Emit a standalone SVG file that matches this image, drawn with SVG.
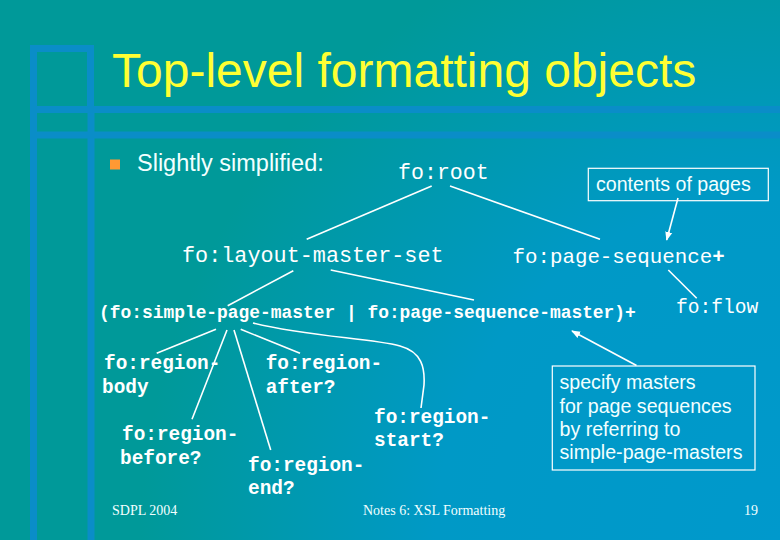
<svg xmlns="http://www.w3.org/2000/svg" width="780" height="540" viewBox="0 0 780 540">
<defs>
<radialGradient id="bg" gradientUnits="userSpaceOnUse" cx="780" cy="540" r="820">
<stop offset="0" stop-color="#0099CC"/>
<stop offset="0.42" stop-color="#0099C6"/>
<stop offset="0.78" stop-color="#009999"/>
<stop offset="1" stop-color="#009999"/>
</radialGradient>
<marker id="ah" viewBox="0 0 10 10" refX="9" refY="5" markerWidth="9" markerHeight="9" markerUnits="userSpaceOnUse" orient="auto">
<path d="M0,1 L10,5 L0,9 Z" fill="#FFFFFF"/>
</marker>
<style>
.frame{stroke:#0A8DC8;stroke-width:7;fill:none}
.mono{font-family:"Liberation Mono","Courier New",monospace;fill:#FFFFFF}
.b{font-weight:bold}
.sans{font-family:"Liberation Sans",Arial,sans-serif;fill:#F2FFFF}
.serif{font-family:"Liberation Serif","Times New Roman",serif;fill:#F2FFFF;font-size:14px}
.ln{stroke:#FFFFFF;stroke-width:1.6;fill:none}
.box{stroke:#FFFFFF;stroke-width:1.2;fill:none}
</style>
</defs>
<rect width="780" height="540" fill="url(#bg)"/>
<g id="frame">
<rect class="frame" x="33.5" y="48.5" width="57" height="61"/>
<line class="frame" x1="30" y1="109.5" x2="780" y2="109.5"/>
<line class="frame" x1="30" y1="135" x2="780" y2="135"/>
<line class="frame" x1="91" y1="109" x2="91" y2="540"/>
<line class="frame" x1="33.5" y1="109" x2="33.5" y2="540"/>
</g>
<text x="112" y="87" style="font-family:'Liberation Sans',Arial,sans-serif;font-size:48px;fill:#FFFF33">Top-level formatting objects</text>
<rect x="110" y="159.5" width="10" height="10" fill="#FF9933"/>
<text class="sans" x="137" y="171" style="font-size:23.5px">Slightly simplified:</text>
<g id="connectors">
<line class="ln" x1="431.7" y1="186" x2="306.7" y2="239.3"/>
<line class="ln" x1="450" y1="186" x2="600" y2="239.3"/>
<line class="ln" x1="293.3" y1="270.7" x2="227.7" y2="305.7"/>
<line class="ln" x1="330.7" y1="270" x2="474" y2="300"/>
<line class="ln" x1="668.3" y1="270" x2="696.7" y2="298.3"/>
<line class="ln" x1="216" y1="329.3" x2="156.7" y2="353.3"/>
<line class="ln" x1="227" y1="330" x2="192" y2="419.3"/>
<line class="ln" x1="234" y1="330" x2="270.7" y2="450"/>
<line class="ln" x1="240.7" y1="329.3" x2="300" y2="353.3"/>
<path class="ln" d="M253,323 C310,337 370,338 400,346 C422,352 425,368 424,385 L421,408"/>
<line class="ln" x1="678" y1="198" x2="666.7" y2="240" marker-end="url(#ah)"/>
<line class="ln" x1="636.5" y1="365.5" x2="572" y2="331" marker-end="url(#ah)"/>
</g>
<g id="root"><text class="mono" x="398" y="179" style="font-size:21.6px">fo:root</text></g>
<g id="contents-note">
<rect class="box" x="588.3" y="168.3" width="180" height="32.4"/>
<text class="sans" x="596" y="191" style="font-size:19.6px">contents of pages</text>
</g>
<g id="layout-master-set"><text class="mono" x="182" y="262" style="font-size:21.8px">fo:layout-master-set</text></g>
<g id="page-sequence"><text class="mono" x="512.5" y="263" style="font-size:20.8px">fo:page-sequence<tspan class="b">+</tspan></text></g>
<g id="masters"><text class="mono b" x="99" y="318" style="font-size:17.9px">(fo:simple-page-master | fo:page-sequence-master)+</text></g>
<g id="flow"><text class="mono" x="676" y="313" style="font-size:19.6px">fo:flow</text></g>
<g id="region-body"><text class="mono b" style="font-size:19.4px"><tspan x="104" y="369">fo:region-</tspan><tspan x="102" y="393">body</tspan></text></g>
<g id="region-after"><text class="mono b" style="font-size:19.4px"><tspan x="265.7" y="369">fo:region-</tspan><tspan x="265.7" y="393">after?</tspan></text></g>
<g id="region-start"><text class="mono b" style="font-size:19.4px"><tspan x="374" y="423">fo:region-</tspan><tspan x="374" y="446">start?</tspan></text></g>
<g id="region-before"><text class="mono b" style="font-size:19.4px"><tspan x="122" y="440">fo:region-</tspan><tspan x="120" y="464">before?</tspan></text></g>
<g id="region-end"><text class="mono b" style="font-size:19.4px"><tspan x="248" y="471">fo:region-</tspan><tspan x="248" y="494">end?</tspan></text></g>
<g id="masters-note">
<rect class="box" x="552.3" y="366" width="202.7" height="104"/>
<text class="sans" style="font-size:19.6px"><tspan x="559.5" y="389">specify masters</tspan><tspan x="559.5" y="412.5">for page sequences</tspan><tspan x="559.5" y="436">by referring to</tspan><tspan x="559.5" y="459">simple-page-masters</tspan></text>
</g>
<text class="serif" x="112" y="515">SDPL 2004</text>
<text class="serif" x="363" y="515">Notes 6: XSL Formatting</text>
<text class="serif" x="744" y="515">19</text>
</svg>
